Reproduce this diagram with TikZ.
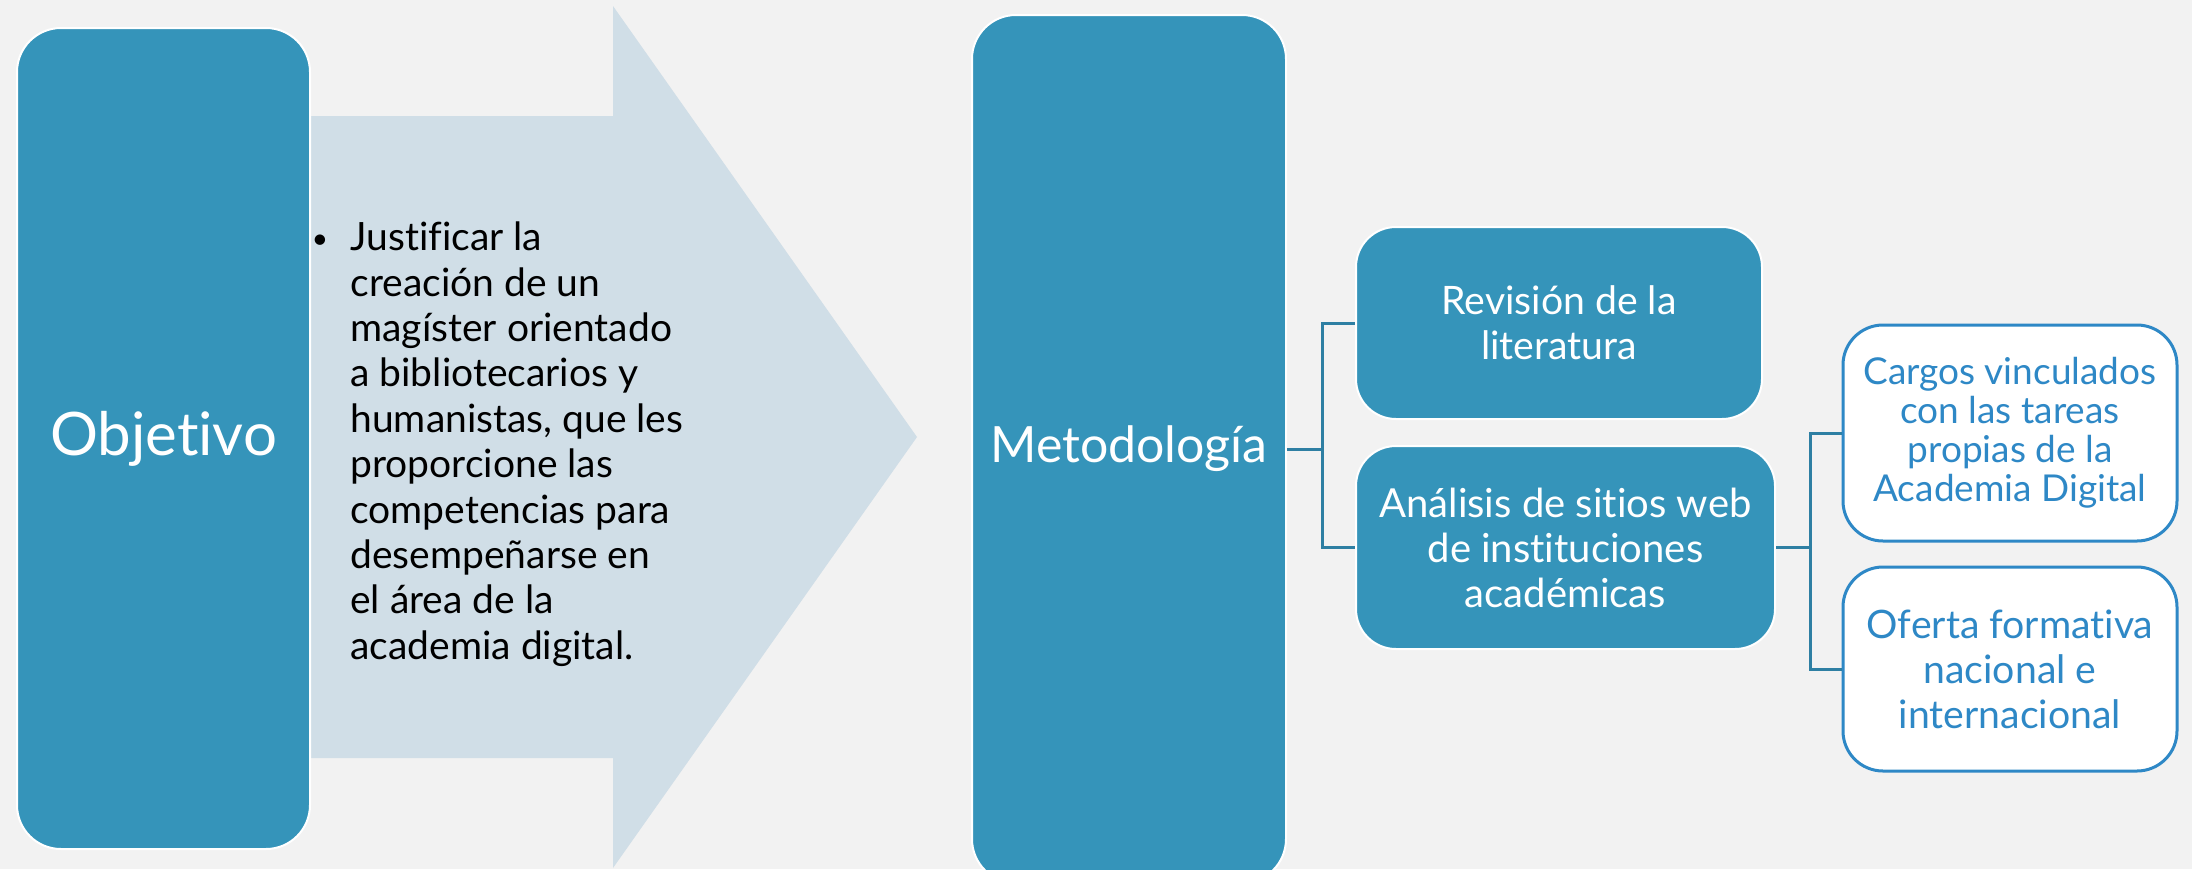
\documentclass[tikz,border=0pt]{standalone}
\usepackage{fontspec}
\setmainfont{Lato}[Ligatures={NoCommon}]
\usepackage{xcolor}
\usepackage{tikz}
\usetikzlibrary{calc}
\definecolor{bg}{HTML}{F2F2F2}
\definecolor{teal}{HTML}{3594BA}
\definecolor{pale}{HTML}{D0DEE7}
\definecolor{wire}{HTML}{2E7FA3}
\definecolor{outline}{HTML}{2E88C6}
\definecolor{ink}{HTML}{000000}
\tikzset{
  tall/.style={fill=teal, draw=white, line width=1pt, rounded corners=22pt, text=white, inner sep=0pt},
  boxd/.style={fill=teal, draw=white, line width=1pt, rounded corners=20pt, text=white, align=center,
    inner sep=0pt, font=\fontsize{19.6}{22.5}\selectfont},
  boxw/.style={fill=white, draw=outline, line width=1.5pt, rounded corners=20pt, text=outline, align=center,
    inner sep=0pt, font=\fontsize{19.6}{22.5}\selectfont},
  conn/.style={draw=wire, line width=1.5pt},
  body/.style={text=ink, align=left, inner sep=0pt, font=\fontsize{19.5}{22.7}\selectfont}
}

\begin{document}
\begin{tikzpicture}[x=0.5pt, y=-0.5pt]
  \useasboundingbox (0,0) rectangle (2192,869);
  \clip (0,0) rectangle (2192,869);
  \fill[bg] (0,0) rectangle (2192,869);

  % big arrow behind the first box
  \fill[pale] (290,116) -- (613,116) -- (613,6) -- (917,437) -- (613,868) -- (613,758) -- (290,758) -- cycle;

  \node[tall, minimum width=146.5pt, minimum height=410.5pt, font=\fontsize{30}{36}\selectfont]
    (obj) at (163.5,438.5) {Objetivo};
  \node[body, anchor=base, font=\fontsize{14}{16}\selectfont] (dot) at (320,248) {\textbullet};
  \node[body, anchor=north west] (goal) at (350,221.5) {Justificar la\\creación de un\\magíster orientado\\a bibliotecarios y\\humanistas, que les\\proporcione las\\competencias para\\desempeñarse en\\el área de la\\academia digital.};

  \node[tall, minimum width=157pt, minimum height=434pt, font=\fontsize{25}{30}\selectfont]
    (met) at (1129,449) {Metodología};

  \node[boxd, minimum width=203pt, minimum height=96pt] (rev) at (1559,323) {Revisión de la\\literatura};
  \node[boxd, minimum width=209.5pt, minimum height=101.5pt, font=\fontsize{20}{22.5}\selectfont]
    (ana) at (1565.5,547.5) {Análisis de sitios web\\de instituciones\\académicas};

  \node[boxw, minimum width=167pt, minimum height=108pt, font=\fontsize{18.5}{19.5}\selectfont]
    (car) at (2010,433) {Cargos vinculados\\con las tareas\\propias de la\\Academia Digital};
  \node[boxw, minimum width=167pt, minimum height=102pt] (ofe) at (2010,669) {Oferta formativa\\nacional e\\internacional};

  \draw[conn] (met.east) -- ++(35,0) |- (rev.west);
  \draw[conn] (met.east) -- ++(35,0) |- (ana.west);
  \draw[conn] (ana.east) -- ++(34,0) |- (car.west);
  \draw[conn] (ana.east) -- ++(34,0) |- (ofe.west);
\end{tikzpicture}
\end{document}
